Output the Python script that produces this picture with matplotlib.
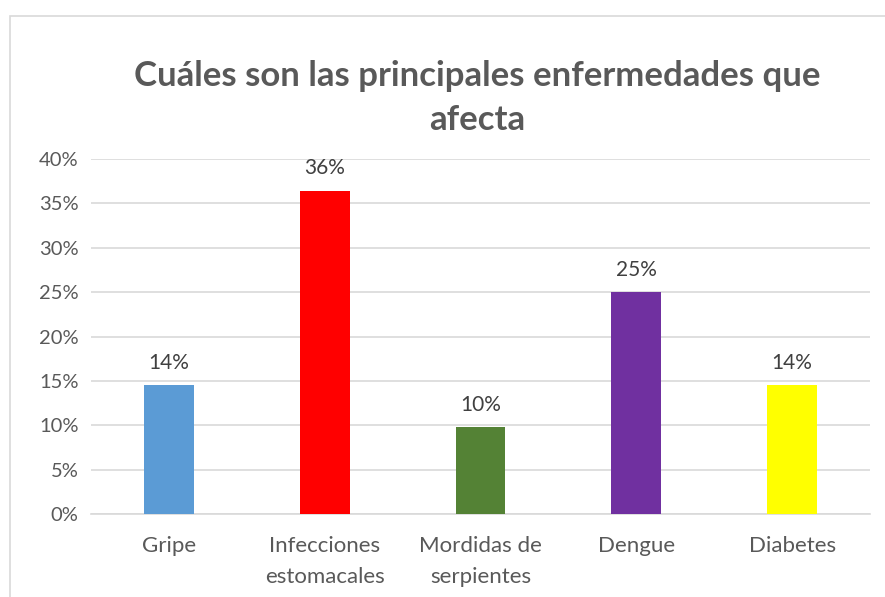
import matplotlib
matplotlib.use("Agg")
import matplotlib.pyplot as plt
from matplotlib.patches import Rectangle
from matplotlib.ticker import FuncFormatter

categories = ["Gripe", "Infecciones\nestomacales", "Mordidas de\nserpientes", "Dengue", "Diabetes"]
values = [0.145, 0.364, 0.098, 0.250, 0.145]
labels = ["14%", "36%", "10%", "25%", "14%"]
colors = ["#5B9BD5", "#FF0000", "#548235", "#7030A0", "#FFFF00"]
title = "Cuáles son las principales enfermedades que\nafecta"

plt.rcParams['font.family'] = ['Lato', 'DejaVu Sans']

W, H = 885, 597
fig = plt.figure(figsize=(W / 100, H / 100), dpi=100)
fig.patch.set_facecolor("white")

# chart border
fig.patches.append(Rectangle((9.5 / W, -0.05), 1.0, 1 - 15.5 / H + 0.05, transform=fig.transFigure,
                             fill=False, edgecolor="#D9D9D9", linewidth=1.2))

left, right, top, bottom = 91, 870, 159, 514
ax = fig.add_axes([left / W, 1 - bottom / H, (right - left) / W, (bottom - top) / H])
x = list(range(len(categories)))
ax.bar(x, values, width=0.32, color=colors, zorder=3)
ax.set_xlim(-0.5, len(categories) - 0.5)
ax.set_ylim(0, 0.40)
ax.set_yticks([i * 0.05 for i in range(9)])
ax.yaxis.set_major_formatter(FuncFormatter(lambda v, p: f"{round(v * 100)}%"))
ax.grid(axis="y", color="#D9D9D9", linewidth=1.2, zorder=0)
for s in ["top", "right", "left"]:
    ax.spines[s].set_visible(False)
ax.spines["bottom"].set_color("#D9D9D9")
ax.spines["bottom"].set_linewidth(1.2)
ax.tick_params(axis="both", length=0, colors="#595959")
ax.tick_params(axis="y", pad=9, labelsize=14.5)
ax.tick_params(axis="x", pad=16, labelsize=16)
ax.set_xticks(x)
ax.set_xticklabels(categories, linespacing=1.7)

for xi, v, lab in zip(x, values, labels):
    ax.annotate(lab, (xi, v), xytext=(0, 9), textcoords="offset points", ha="center",
                va="bottom", fontsize=15, color="#404040")

fig.text(477 / W, 1 - 98 / H, title, ha="center", va="center", fontsize=25,
         fontweight="bold", color="#595959", linespacing=1.5)

fig.savefig("out.png", dpi=100)
